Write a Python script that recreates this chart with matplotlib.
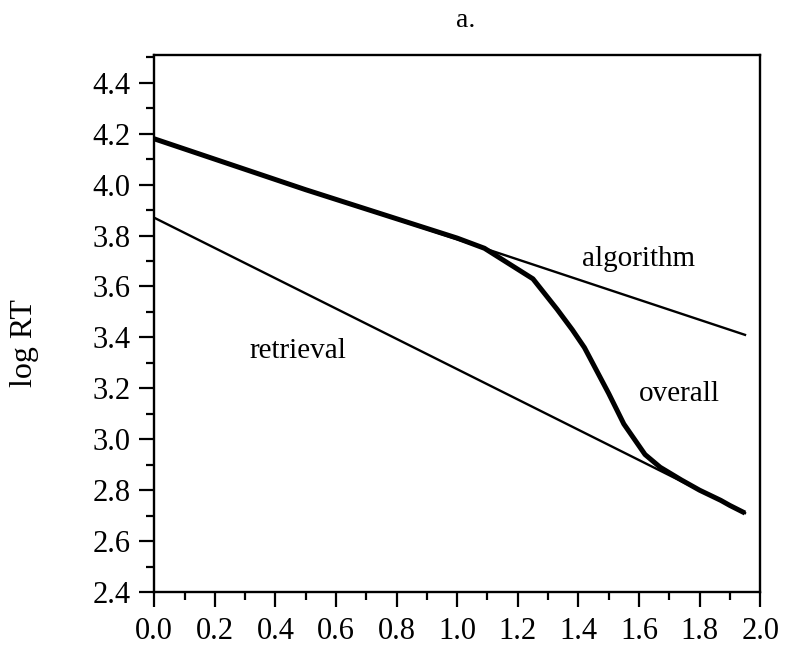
import matplotlib
matplotlib.use("Agg")
import matplotlib.pyplot as plt
from matplotlib.ticker import MultipleLocator

# Data
algorithm_x = [0.0, 1.95]
algorithm_y = [4.18, 3.41]

retrieval_x = [0.0, 1.95]
retrieval_y = [3.87, 2.71]

overall_x = [0.0, 0.5, 1.0, 1.09, 1.25, 1.33, 1.38, 1.42, 1.46, 1.50, 1.55, 1.62,
             1.67, 1.74, 1.80, 1.87, 1.90, 1.95]
overall_y = [4.18, 3.98, 3.79, 3.75, 3.63, 3.51, 3.43, 3.36, 3.27, 3.18, 3.06, 2.94,
             2.89, 2.84, 2.80, 2.76, 2.74, 2.71]

xticks = [0.0, 0.2, 0.4, 0.6, 0.8, 1.0, 1.2, 1.4, 1.6, 1.8, 2.0]
yticks = [2.4, 2.6, 2.8, 3.0, 3.2, 3.4, 3.6, 3.8, 4.0, 4.2, 4.4]

plt.rcParams['font.family'] = ['Liberation Serif', 'DejaVu Serif']

fig = plt.figure(figsize=(7.91, 6.6), dpi=100)
ax = fig.add_axes([0.195, 0.103, 0.766, 0.814])

ax.plot(algorithm_x, algorithm_y, color='black', lw=1.7)
ax.plot(retrieval_x, retrieval_y, color='black', lw=1.7)
ax.plot(overall_x, overall_y, color='black', lw=3.6,
        solid_joinstyle='round', solid_capstyle='butt')

ax.set_xlim(0.0, 2.0)
ax.set_ylim(2.4, 4.51)
ax.set_xticks(xticks)
ax.set_xticklabels([f"{v:.1f}" for v in xticks])
ax.set_yticks(yticks)
ax.set_yticklabels([f"{v:.1f}" for v in yticks])
ax.xaxis.set_minor_locator(MultipleLocator(0.1))
ax.yaxis.set_minor_locator(MultipleLocator(0.1))
ax.tick_params(which='major', direction='out', length=11, width=1.6, labelsize=22)
ax.tick_params(axis='x', which='major', pad=7)
ax.tick_params(axis='y', which='major', pad=6)
ax.tick_params(which='minor', direction='out', length=6, width=1.6)
ax.tick_params(top=False, right=False, which='both')
for s in ax.spines.values():
    s.set_linewidth(1.7)

ax.set_ylabel("log RT", fontsize=23)
ax.yaxis.set_label_coords(-0.191, 0.464)

ax.text(1.598, 3.68, "algorithm", fontsize=21, ha='center', va='baseline')
ax.text(0.474, 3.32, "retrieval", fontsize=21, ha='center', va='baseline')
ax.text(1.733, 3.15, "overall", fontsize=21, ha='center', va='baseline')

fig.text(0.589, 0.959, "a.", fontsize=20, ha='center', va='baseline')

fig.savefig("out.png", dpi=100)
